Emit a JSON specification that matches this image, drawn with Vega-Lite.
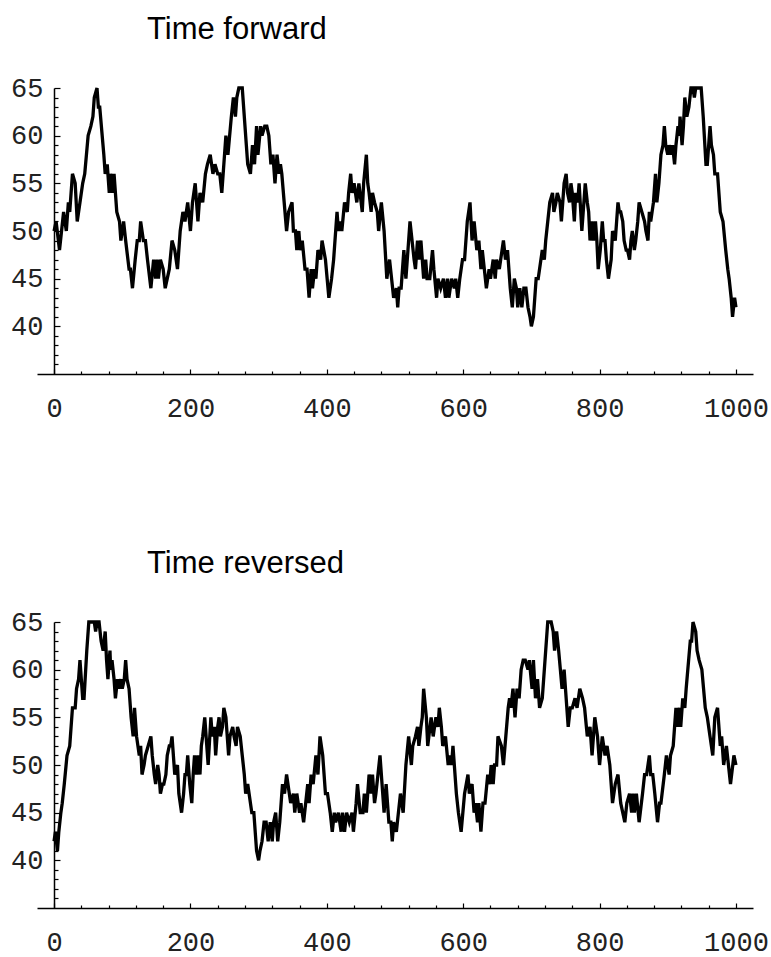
{
  "$schema": "https://vega.github.io/schema/vega-lite/v6.json",
  "background": "white",
  "padding": {"left": 10, "top": 14, "right": 0, "bottom": 2},
  "spacing": 127,
  "config": {
    "view": {"stroke": null},
    "axis": {"labelFont": "Liberation Mono", "labelFontSize": 27, "labelColor": "#222222", "domainColor": "black", "tickColor": "black", "grid": false, "title": null, "domainWidth": 1.5, "tickWidth": 1.2, "labelFlush": false, "labelOverlap": false},
    "title": {"font": "Liberation Sans", "fontSize": 31, "fontWeight": "normal", "color": "black", "anchor": "start", "frame": "group", "offset": 28}
  },
  "datasets": {
    "walk": [
      {"t":0,"r":1000,"v":50},{"t":3,"r":997,"v":51},{"t":8,"r":992,"v":48},{"t":11,"r":989,"v":50},{"t":14,"r":986,"v":52},{"t":18,"r":982,"v":50},{"t":21,"r":979,"v":53},{"t":23,"r":977,"v":52},{"t":27,"r":973,"v":56},{"t":31,"r":969,"v":55},{"t":34,"r":966,"v":51},{"t":38,"r":962,"v":53},{"t":42,"r":958,"v":55},{"t":45,"r":955,"v":56},{"t":50,"r":950,"v":60},{"t":54,"r":946,"v":61},{"t":57,"r":943,"v":62},{"t":59,"r":941,"v":64},{"t":63,"r":937,"v":65},{"t":65,"r":935,"v":63},{"t":67,"r":933,"v":63},{"t":73,"r":927,"v":58},{"t":75,"r":925,"v":56},{"t":78,"r":922,"v":57},{"t":81,"r":919,"v":54},{"t":83,"r":917,"v":56},{"t":86,"r":914,"v":54},{"t":88,"r":912,"v":56},{"t":92,"r":908,"v":52},{"t":96,"r":904,"v":51},{"t":98,"r":902,"v":49},{"t":102,"r":898,"v":51},{"t":105,"r":895,"v":49},{"t":110,"r":890,"v":46},{"t":112,"r":888,"v":46},{"t":115,"r":885,"v":44},{"t":119,"r":881,"v":47},{"t":122,"r":878,"v":49},{"t":125,"r":875,"v":49},{"t":127,"r":873,"v":51},{"t":131,"r":869,"v":49},{"t":134,"r":866,"v":49},{"t":137,"r":863,"v":47},{"t":142,"r":858,"v":44},{"t":146,"r":854,"v":47},{"t":149,"r":851,"v":45},{"t":151,"r":849,"v":47},{"t":153,"r":847,"v":45},{"t":156,"r":844,"v":47},{"t":160,"r":840,"v":46},{"t":163,"r":837,"v":44},{"t":166,"r":834,"v":45},{"t":169,"r":831,"v":46},{"t":173,"r":827,"v":49},{"t":177,"r":823,"v":48},{"t":181,"r":819,"v":46},{"t":185,"r":815,"v":50},{"t":189,"r":811,"v":52},{"t":192,"r":808,"v":51},{"t":196,"r":804,"v":53},{"t":200,"r":800,"v":50},{"t":203,"r":797,"v":53},{"t":207,"r":793,"v":55},{"t":211,"r":789,"v":51},{"t":214,"r":786,"v":54},{"t":218,"r":782,"v":53},{"t":222,"r":778,"v":56},{"t":225,"r":775,"v":57},{"t":229,"r":771,"v":58},{"t":233,"r":767,"v":56},{"t":236,"r":764,"v":57},{"t":240,"r":760,"v":56},{"t":243,"r":757,"v":56},{"t":246,"r":754,"v":54},
      {"t":252,"r":748,"v":60},{"t":255,"r":745,"v":58},{"t":260,"r":740,"v":62},{"t":263,"r":737,"v":64},{"t":266,"r":734,"v":62},{"t":268,"r":732,"v":64},{"t":271,"r":729,"v":65},{"t":276,"r":724,"v":65},{"t":282,"r":718,"v":59},{"t":284,"r":716,"v":57},{"t":288,"r":712,"v":56},{"t":291,"r":709,"v":59},{"t":294,"r":706,"v":57},{"t":297,"r":703,"v":61},{"t":299,"r":701,"v":58},{"t":303,"r":697,"v":61},{"t":305,"r":695,"v":60},{"t":309,"r":691,"v":61},{"t":312,"r":688,"v":61},{"t":315,"r":685,"v":60},{"t":318,"r":682,"v":57},{"t":321,"r":679,"v":58},{"t":324,"r":676,"v":55},{"t":327,"r":673,"v":58},{"t":330,"r":670,"v":56},{"t":332,"r":668,"v":57},{"t":334,"r":666,"v":56},{"t":341,"r":659,"v":50},{"t":344,"r":656,"v":52},{"t":349,"r":651,"v":53},{"t":351,"r":649,"v":50},{"t":354,"r":646,"v":50},{"t":356,"r":644,"v":48},{"t":359,"r":641,"v":50},{"t":361,"r":639,"v":48},{"t":364,"r":636,"v":49},{"t":368,"r":632,"v":46},{"t":371,"r":629,"v":46},{"t":374,"r":626,"v":43},{"t":377,"r":623,"v":46},{"t":379,"r":621,"v":44},{"t":382,"r":618,"v":46},{"t":384,"r":616,"v":45},{"t":387,"r":613,"v":48},{"t":391,"r":609,"v":47},{"t":393,"r":607,"v":49},{"t":398,"r":602,"v":47},{"t":403,"r":597,"v":43},{"t":407,"r":593,"v":45},{"t":410,"r":590,"v":47},{"t":415,"r":585,"v":52},{"t":417,"r":583,"v":50},{"t":420,"r":580,"v":51},{"t":422,"r":578,"v":50},{"t":426,"r":574,"v":53},{"t":430,"r":570,"v":52},{"t":432,"r":568,"v":54},{"t":435,"r":565,"v":56},{"t":437,"r":563,"v":54},{"t":440,"r":560,"v":55},{"t":442,"r":558,"v":54},{"t":444,"r":556,"v":53},{"t":447,"r":553,"v":55},{"t":452,"r":548,"v":52},{"t":454,"r":546,"v":55},{"t":458,"r":542,"v":58},{"t":460,"r":540,"v":55},{"t":462,"r":538,"v":54},{"t":465,"r":535,"v":52},{"t":467,"r":533,"v":54},{"t":470,"r":530,"v":53},{"t":474,"r":526,"v":52},{"t":476,"r":524,"v":50},{"t":480,"r":520,"v":53},{"t":484,"r":516,"v":50},{"t":488,"r":512,"v":45},{"t":492,"r":508,"v":47},{"t":495,"r":505,"v":45},{"t":498,"r":502,"v":43},
      {"t":502,"r":498,"v":44},{"t":504,"r":496,"v":42},{"t":506,"r":494,"v":44},{"t":509,"r":491,"v":44},{"t":513,"r":487,"v":48},{"t":516,"r":484,"v":45},{"t":519,"r":481,"v":48},{"t":522,"r":478,"v":51},{"t":525,"r":475,"v":49},{"t":528,"r":472,"v":47},{"t":530,"r":470,"v":46},{"t":533,"r":467,"v":49},{"t":535,"r":465,"v":47},{"t":538,"r":462,"v":49},{"t":540,"r":460,"v":47},{"t":542,"r":458,"v":45},{"t":545,"r":455,"v":47},{"t":547,"r":453,"v":45},{"t":551,"r":449,"v":45},{"t":555,"r":445,"v":48},{"t":557,"r":443,"v":46},{"t":561,"r":439,"v":43},{"t":563,"r":437,"v":45},{"t":567,"r":433,"v":44},{"t":571,"r":429,"v":45},{"t":574,"r":426,"v":43},{"t":577,"r":423,"v":45},{"t":579,"r":421,"v":43},{"t":583,"r":417,"v":45},{"t":587,"r":413,"v":44},{"t":589,"r":411,"v":45},{"t":592,"r":408,"v":43},{"t":595,"r":405,"v":45},{"t":599,"r":401,"v":47},{"t":602,"r":398,"v":47},{"t":606,"r":394,"v":51},{"t":610,"r":390,"v":53},{"t":613,"r":387,"v":49},{"t":616,"r":384,"v":51},{"t":620,"r":380,"v":48},{"t":623,"r":377,"v":49},{"t":626,"r":374,"v":46},{"t":628,"r":372,"v":48},{"t":631,"r":369,"v":46},{"t":634,"r":366,"v":44},{"t":638,"r":362,"v":46},{"t":640,"r":360,"v":45},{"t":644,"r":356,"v":47},{"t":647,"r":353,"v":45},{"t":649,"r":351,"v":47},{"t":653,"r":347,"v":46},{"t":655,"r":345,"v":47},{"t":659,"r":341,"v":49},{"t":662,"r":338,"v":47},{"t":665,"r":335,"v":48},{"t":669,"r":331,"v":44},{"t":672,"r":328,"v":42},{"t":675,"r":325,"v":45},{"t":678,"r":322,"v":44},{"t":680,"r":320,"v":42},{"t":683,"r":317,"v":44},{"t":686,"r":314,"v":42},{"t":689,"r":311,"v":44},{"t":692,"r":308,"v":44},{"t":695,"r":305,"v":42},{"t":698,"r":302,"v":41},{"t":700,"r":300,"v":40},{"t":703,"r":297,"v":41},{"t":707,"r":293,"v":45},{"t":710,"r":290,"v":45},{"t":714,"r":286,"v":47},{"t":716,"r":284,"v":48},{"t":719,"r":281,"v":47},{"t":721,"r":279,"v":49},{"t":724,"r":276,"v":51},{"t":727,"r":273,"v":53},{"t":731,"r":269,"v":54},{"t":733,"r":267,"v":52},{"t":736,"r":264,"v":53},{"t":738,"r":262,"v":54},{"t":742,"r":258,"v":53},{"t":744,"r":256,"v":51},{"t":748,"r":252,"v":55},
      {"t":751,"r":249,"v":56},{"t":753,"r":247,"v":54},{"t":756,"r":244,"v":53},{"t":758,"r":242,"v":55},{"t":760,"r":240,"v":54},{"t":763,"r":237,"v":51},{"t":765,"r":235,"v":54},{"t":768,"r":232,"v":53},{"t":770,"r":230,"v":55},{"t":774,"r":226,"v":50},{"t":777,"r":223,"v":53},{"t":779,"r":221,"v":55},{"t":782,"r":218,"v":53},{"t":784,"r":216,"v":52},{"t":786,"r":214,"v":49},{"t":789,"r":211,"v":51},{"t":791,"r":209,"v":49},{"t":794,"r":206,"v":51},{"t":796,"r":204,"v":49},{"t":798,"r":202,"v":46},{"t":801,"r":199,"v":48},{"t":804,"r":196,"v":51},{"t":806,"r":194,"v":49},{"t":808,"r":192,"v":49},{"t":810,"r":190,"v":47},{"t":813,"r":187,"v":45},{"t":817,"r":183,"v":47},{"t":819,"r":181,"v":50},{"t":823,"r":177,"v":49},{"t":827,"r":173,"v":53},{"t":829,"r":171,"v":52},{"t":831,"r":169,"v":52},{"t":834,"r":166,"v":51},{"t":836,"r":164,"v":49},{"t":839,"r":161,"v":48},{"t":841,"r":159,"v":48},{"t":844,"r":156,"v":47},{"t":846,"r":154,"v":49},{"t":848,"r":152,"v":50},{"t":851,"r":149,"v":48},{"t":853,"r":147,"v":49},{"t":856,"r":144,"v":51},{"t":858,"r":142,"v":53},{"t":862,"r":138,"v":52},{"t":866,"r":134,"v":51},{"t":868,"r":132,"v":50},{"t":871,"r":129,"v":49},{"t":873,"r":127,"v":52},{"t":875,"r":125,"v":51},{"t":879,"r":121,"v":53},{"t":882,"r":118,"v":56},{"t":884,"r":116,"v":53},{"t":887,"r":113,"v":55},{"t":890,"r":110,"v":58},{"t":893,"r":107,"v":59},{"t":895,"r":105,"v":61},{"t":897,"r":103,"v":59},{"t":900,"r":100,"v":58},{"t":902,"r":98,"v":59},{"t":905,"r":95,"v":58},{"t":907,"r":93,"v":59},{"t":910,"r":90,"v":57},{"t":912,"r":88,"v":59},{"t":915,"r":85,"v":61},{"t":917,"r":83,"v":60},{"t":918,"r":82,"v":62},{"t":921,"r":79,"v":59},{"t":923,"r":77,"v":61},{"t":925,"r":75,"v":64},{"t":928,"r":72,"v":62},{"t":931,"r":69,"v":63},{"t":934,"r":66,"v":65},{"t":937,"r":63,"v":65},{"t":939,"r":61,"v":64},{"t":941,"r":59,"v":65},{"t":945,"r":55,"v":65},{"t":949,"r":51,"v":65},{"t":952,"r":48,"v":62},{"t":956,"r":44,"v":57},{"t":958,"r":42,"v":57},{"t":962,"r":38,"v":61},{"t":964,"r":36,"v":59},{"t":967,"r":33,"v":58},{"t":969,"r":31,"v":56},{"t":973,"r":27,"v":56},{"t":977,"r":23,"v":52},{"t":981,"r":19,"v":51},{"t":985,"r":15,"v":48},{"t":988,"r":12,"v":46},{"t":990,"r":10,"v":45},{"t":993,"r":7,"v":43},{"t":995,"r":5,"v":41},{"t":998,"r":2,"v":43},{"t":1000,"r":0,"v":42}
    ]
  },
  "vconcat": [
    {
      "title": {"text": "Time forward", "dx": 110},
      "width": 716,
      "height": 286,
      "data": {"name": "walk"},
      "layer": [
        {
          "mark": {"type": "line", "color": "black", "strokeWidth": 3.3},
          "encoding": {
            "x": {"field": "t", "type": "quantitative", "scale": {"domain": [-25, 1025], "nice": false, "zero": false}, "axis": {"orient": "bottom", "values": [0, 200, 400, 600, 800, 1000], "format": "d", "tickSize": -5, "labelPadding": 26}},
            "y": {"field": "v", "type": "quantitative", "scale": {"domain": [35, 65], "nice": false, "zero": false}, "axis": {"orient": "left", "values": [40, 45, 50, 55, 60, 65], "offset": -17, "tickSize": -6, "labelPadding": 17}}
          }
        },
        {
          "mark": {"type": "line", "opacity": 0},
          "encoding": {
            "x": {"field": "t", "type": "quantitative", "scale": {"domain": [-25, 1025], "nice": false, "zero": false}, "axis": {"orient": "bottom", "values": [40, 80, 120, 160, 240, 280, 320, 360, 440, 480, 520, 560, 640, 680, 720, 760, 840, 880, 920, 960], "labels": false, "domain": false, "tickSize": -3}},
            "y": {"field": "v", "type": "quantitative", "scale": {"domain": [35, 65], "nice": false, "zero": false}, "axis": {"orient": "left", "values": [36, 37, 38, 39, 41, 42, 43, 44, 46, 47, 48, 49, 51, 52, 53, 54, 56, 57, 58, 59, 61, 62, 63, 64], "labels": false, "domain": false, "offset": -17, "tickSize": -4}}
          }
        }
      ],
      "resolve": {"axis": {"x": "independent", "y": "independent"}}
    },
    {
      "title": {"text": "Time reversed", "dx": 110},
      "width": 716,
      "height": 286,
      "data": {"name": "walk"},
      "layer": [
        {
          "mark": {"type": "line", "color": "black", "strokeWidth": 3.3},
          "encoding": {
            "x": {"field": "r", "type": "quantitative", "sort": "ascending", "scale": {"domain": [-25, 1025], "nice": false, "zero": false}, "axis": {"orient": "bottom", "values": [0, 200, 400, 600, 800, 1000], "format": "d", "tickSize": -5, "labelPadding": 26}},
            "y": {"field": "v", "type": "quantitative", "scale": {"domain": [35, 65], "nice": false, "zero": false}, "axis": {"orient": "left", "values": [40, 45, 50, 55, 60, 65], "offset": -17, "tickSize": -6, "labelPadding": 17}}
          }
        },
        {
          "mark": {"type": "line", "opacity": 0},
          "encoding": {
            "x": {"field": "r", "type": "quantitative", "scale": {"domain": [-25, 1025], "nice": false, "zero": false}, "axis": {"orient": "bottom", "values": [40, 80, 120, 160, 240, 280, 320, 360, 440, 480, 520, 560, 640, 680, 720, 760, 840, 880, 920, 960], "labels": false, "domain": false, "tickSize": -3}},
            "y": {"field": "v", "type": "quantitative", "scale": {"domain": [35, 65], "nice": false, "zero": false}, "axis": {"orient": "left", "values": [36, 37, 38, 39, 41, 42, 43, 44, 46, 47, 48, 49, 51, 52, 53, 54, 56, 57, 58, 59, 61, 62, 63, 64], "labels": false, "domain": false, "offset": -17, "tickSize": -4}}
          }
        }
      ],
      "resolve": {"axis": {"x": "independent", "y": "independent"}}
    }
  ]
}
